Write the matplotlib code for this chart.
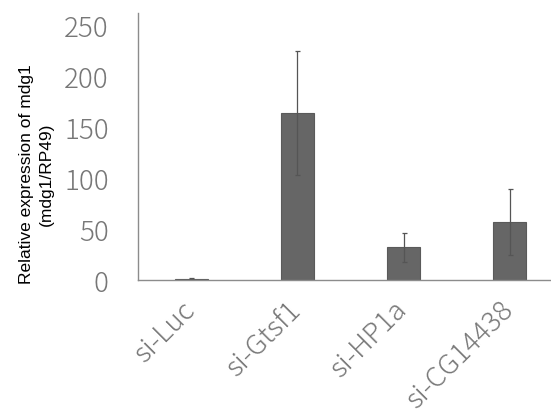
import matplotlib
matplotlib.use("Agg")
import matplotlib.pyplot as plt
import matplotlib.transforms as mtransforms

# ==========================================================
# Data
# ==========================================================

categories = ["si-Luc", "si-Gtsf1", "si-HP1a", "si-CG14438"]
means = [1, 164, 32, 57]
errors = [0.5, 61, 14.5, 32]
y_ticks = [0, 50, 100, 150, 200, 250]

plt.rcParams["font.family"] = ["Noto Sans CJK JP", "DejaVu Sans"]

# ==========================================================
# Figure
# ==========================================================

fig = plt.figure(figsize=(5.51, 4.14), dpi=100)
ax = fig.add_axes([138 / 551, 133 / 414, 425 / 551, 267 / 414])

x = list(range(len(categories)))
ax.bar(x, means, width=0.31, color="#666666", edgecolor="#5a5a5a", linewidth=0.8,
       yerr=errors, error_kw=dict(ecolor="#555555", elinewidth=0.9, capsize=1.8, capthick=0.9))

ax.set_xlim(-0.5, 3.5)
ax.set_ylim(0, 262)
ax.set_yticks(y_ticks)
ax.set_xticks(x)
ax.set_xticklabels(categories, rotation=45, ha="right", rotation_mode="anchor")

ax.tick_params(axis="y", length=0, pad=21, labelsize=20, labelcolor="#777777")
ax.tick_params(axis="x", length=0, pad=8, labelsize=20, labelcolor="#777777")

for lbl in ax.get_yticklabels() + ax.get_xticklabels():
    lbl.set_fontweight("light")

# shift the rotated labels left like the original
offset = mtransforms.ScaledTranslation(-11 / 100, -4 / 100, fig.dpi_scale_trans)
for lbl in ax.get_xticklabels():
    lbl.set_transform(lbl.get_transform() + offset)

for s in ["top", "right"]:
    ax.spines[s].set_visible(False)
for s in ["left", "bottom"]:
    ax.spines[s].set_color("#8c8c8c")
    ax.spines[s].set_linewidth(1.0)

fig.text(36.5 / 551, 1 - 174 / 414, "Relative expression of mdg1\n(mdg1/RP49)",
         rotation=90, ha="center", va="center", fontsize=12.5, color="black",
         family=["Liberation Sans", "DejaVu Sans"], linespacing=1.45)

plt.savefig("out.png", dpi=100)
